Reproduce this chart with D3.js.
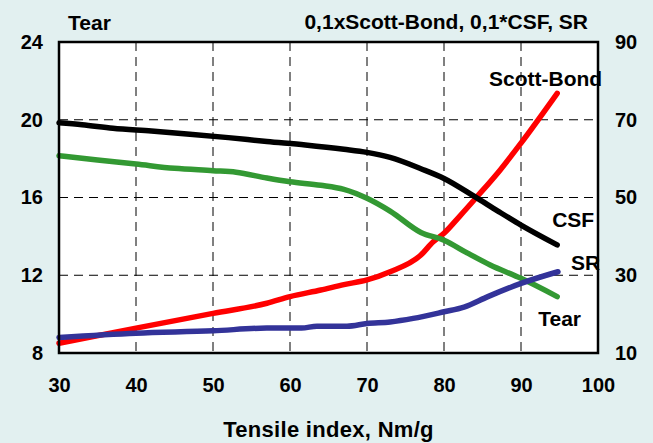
<!DOCTYPE html>
<html>
<head>
<meta charset="utf-8">
<script src="https://cdn.jsdelivr.net/npm/d3@7"></script>
<style>
  body { margin: 0; background: #e2f0f0; }
  .chart { width: 653px; height: 443px; }
  text { font-family: "Liberation Sans", Arial, sans-serif; font-weight: bold; fill: #000; }
</style>
</head>
<body>
<div class="chart"></div>
<script>
// data (tensile index on x)
const xTicks = [30, 40, 50, 60, 70, 80, 90, 100];
const leftTicks = [8, 12, 16, 20, 24];
const rightTicks = [10, 30, 50, 70, 90];

// Tear, left axis
const tearX = [30, 35, 40, 45, 50, 53, 57, 60, 64, 67, 70, 73, 77, 80, 83, 86, 90, 94.7];
const tearY = [18.15, 17.93, 17.72, 17.5, 17.38, 17.3, 17.0, 16.81, 16.63, 16.42, 15.96, 15.3, 14.2, 13.8, 13.15, 12.53, 11.84, 10.9];

// 0,1*CSF, right axis
const csfX = [30, 33, 37, 42, 47, 52, 57, 62, 67, 70, 73, 77, 80, 84, 87, 90, 94.7];
const csfY = [69.2, 68.7, 67.8, 67.1, 66.3, 65.4, 64.4, 63.5, 62.4, 61.6, 60.3, 57.4, 54.9, 50.2, 46.5, 42.9, 37.8];

// 0,1xScott-Bond, right axis
const sbX = [30, 40, 50, 57, 60, 64, 67, 70, 73, 77, 78.6, 80, 82, 84.2, 87.3, 90, 94.7];
const sbY = [12.5, 16.4, 20.2, 22.8, 24.5, 26.2, 27.6, 28.8, 30.9, 35.2, 38.6, 40.8, 45.1, 50, 57.1, 64, 76.8];

// SR, right axis
const srX = [30, 40, 50, 57, 61.5, 63.5, 67.4, 70, 73, 76, 80, 82.6, 85.7, 90, 94.8];
const srY = [14.0, 15.1, 15.7, 16.4, 16.4, 16.9, 16.9, 17.6, 18.0, 18.9, 20.6, 21.8, 24.5, 27.9, 30.9];

let chart = {};

init();

function init() {
    chart.series = [
        { name: "Scott-Bond", axis: "right", color: "#ff0000", x: sbX, y: sbY, dx: 45, dy: -7, anchor: "end" },
        { name: "CSF", axis: "right", color: "#000000", x: csfX, y: csfY, dx: -5, dy: -18, anchor: "start" },
        { name: "Tear", axis: "left", color: "#339933", x: tearX, y: tearY, dx: -19, dy: 29, anchor: "start" },
        { name: "SR", axis: "right", color: "#333399", x: srX, y: srY, dx: 13, dy: -2, anchor: "start" }
    ];
    setDimensions();
    setScales();
    appendElements();
}

function setDimensions() {
    chart.margin = { top: 42, right: 55, bottom: 90, left: 59 };
    chart.width = 653 - chart.margin.left - chart.margin.right;
    chart.height = 443 - chart.margin.top - chart.margin.bottom;
}

function setScales() {
    chart.x = d3.scaleLinear().domain([30, 100]).range([0, chart.width]);
    chart.yLeft = d3.scaleLinear().domain([8, 24]).range([chart.height, 0]);
    chart.yRight = d3.scaleLinear().domain([10, 90]).range([chart.height, 0]);
}

function appendElements() {
    chart.svg = d3.select(".chart").append("svg")
        .attr("width", 653)
        .attr("height", 443);

    chart.svg.append("rect")
        .attr("width", 653).attr("height", 443)
        .attr("fill", "#e2f0f0");

    chart.plot = chart.svg.append("g")
        .attr("transform", `translate(${chart.margin.left},${chart.margin.top})`);

    chart.plot.append("rect")
        .attr("width", chart.width).attr("height", chart.height)
        .attr("fill", "#fff");

    // dashed grid
    let grid = chart.plot.append("g").attr("class", "grid")
        .attr("stroke", "#000").attr("stroke-width", 1).attr("stroke-dasharray", "9,6");
    grid.selectAll("line.v")
        .data(xTicks.slice(1, -1)).enter()
        .append("line").attr("class", "v")
        .attr("x1", d => chart.x(d)).attr("x2", d => chart.x(d))
        .attr("y1", 0).attr("y2", chart.height);
    grid.selectAll("line.h")
        .data(leftTicks.slice(1, -1)).enter()
        .append("line").attr("class", "h")
        .attr("x1", 0).attr("x2", chart.width)
        .attr("y1", d => chart.yLeft(d)).attr("y2", d => chart.yLeft(d));

    // lines
    chart.series.forEach(s => {
        let y = s.axis == "left" ? chart.yLeft : chart.yRight;
        let pts = s.x.map((v, i) => [v, s.y[i]]);
        let line = d3.line()
            .curve(d3.curveMonotoneX)
            .x(d => chart.x(d[0])).y(d => y(d[1]));
        chart.plot.append("path")
            .datum(pts)
            .attr("d", line)
            .attr("fill", "none")
            .attr("stroke", s.color)
            .attr("stroke-width", 5.5)
            .attr("stroke-linecap", "round")
            .attr("stroke-linejoin", "round");
    });

    // border
    chart.plot.append("rect")
        .attr("width", chart.width).attr("height", chart.height)
        .attr("fill", "none").attr("stroke", "#000").attr("stroke-width", 2.5);

    // series labels next to line ends
    chart.series.forEach(s => {
        let y = s.axis == "left" ? chart.yLeft : chart.yRight;
        let n = s.x.length - 1;
        chart.plot.append("text")
            .attr("x", chart.x(s.x[n]) + s.dx)
            .attr("y", y(s.y[n]) + s.dy)
            .attr("text-anchor", s.anchor)
            .style("font-size", "21px")
            .text(s.name);
    });

    // axes
    let xAxis = chart.plot.append("g")
        .attr("transform", `translate(0,${chart.height})`)
        .call(d3.axisBottom(chart.x).tickValues(xTicks).tickSize(0).tickPadding(25));
    let lAxis = chart.plot.append("g")
        .call(d3.axisLeft(chart.yLeft).tickValues(leftTicks).tickSize(0).tickPadding(16));
    let rAxis = chart.plot.append("g")
        .attr("transform", `translate(${chart.width},0)`)
        .call(d3.axisRight(chart.yRight).tickValues(rightTicks).tickSize(0).tickPadding(17));

    [xAxis, lAxis, rAxis].forEach(a => {
        a.select(".domain").remove();
        a.selectAll("text")
            .style("font-family", '"Liberation Sans", Arial, sans-serif')
            .style("font-weight", "bold")
            .style("font-size", "20px")
            .attr("fill", "#000");
    });

    // titles
    chart.svg.append("text")
        .attr("x", 68).attr("y", 30)
        .style("font-size", "21px")
        .text("Tear");
    chart.svg.append("text")
        .attr("x", 588).attr("y", 29)
        .attr("text-anchor", "end")
        .style("font-size", "21px")
        .text("0,1xScott-Bond, 0,1*CSF, SR");
    chart.svg.append("text")
        .attr("x", chart.margin.left + chart.width / 2).attr("y", 437)
        .attr("text-anchor", "middle")
        .style("font-size", "22px")
        .style("letter-spacing", "0.3px")
        .text("Tensile index, Nm/g");
}
</script>
</body>
</html>
